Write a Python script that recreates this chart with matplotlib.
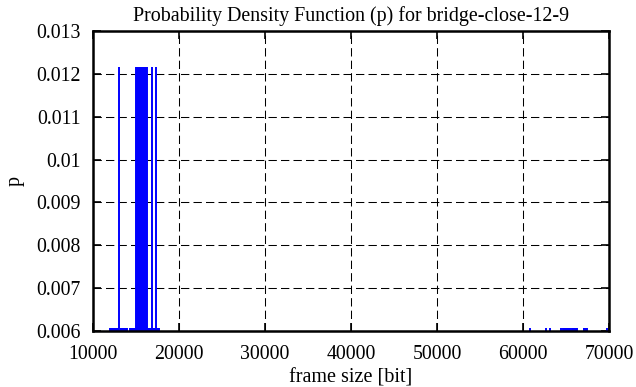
import matplotlib
matplotlib.use("Agg")
import matplotlib.pyplot as plt

# ------------------------------------------------
# Data (frame size in bit, probability)
# ------------------------------------------------

peak_bits = [13050, 15000, 15100, 15200, 15300, 15400, 15500, 15600, 15700,
             15800, 15900, 16000, 16100, 16200, 16300, 16850, 17350]
peak_p = [0.01215, 0.01215, 0.01215, 0.01215, 0.01215, 0.01215, 0.01215,
          0.01215, 0.01215, 0.01215, 0.01215, 0.01215, 0.01215, 0.01215,
          0.01215, 0.01215, 0.01215]

low_bits_left = [12000, 12100, 12200, 12300, 12400, 12500, 12600, 12700,
                 12800, 12900, 13200, 13300, 13400, 13500, 13600, 13700,
                 13800, 13900, 14300, 14400, 14500, 14600, 14700, 14800,
                 14900, 16400, 16500, 16600, 16700, 16800, 16900, 17000,
                 17100, 17200, 17300, 17400, 17500, 17600, 17650]
low_bits_right = [60800, 62700, 63100, 64400, 64650, 64750, 64850, 64950,
                  65050, 65150, 65250, 65350, 65450, 65750, 65850, 65950,
                  66050, 66150, 66230, 67050, 67150, 67250, 67350, 67430,
                  69720]
low_p_left = 0.00607
low_p_right = 0.00606

x_ticks = [10000, 20000, 30000, 40000, 50000, 60000, 70000]
y_ticks = [0.006, 0.007, 0.008, 0.009, 0.01, 0.011, 0.012, 0.013]
y_tick_labels = ["0.006", "0.007", "0.008", "0.009", "0.01", "0.011", "0.012", "0.013"]

# ------------------------------------------------
# Plot
# ------------------------------------------------

plt.rcParams["font.family"] = ["Liberation Serif", "DejaVu Serif"]

fig = plt.figure(figsize=(6.36, 3.87), dpi=100)
ax = fig.add_axes([93 / 636, 1 - 331 / 387, 516 / 636, 300 / 387])

ax.vlines(peak_bits, 0, peak_p, color="#0000ff", lw=1.4)
ax.vlines(low_bits_left, 0, low_p_left, color="#0000ff", lw=1.4)
ax.vlines(low_bits_right, 0, low_p_right, color="#0000ff", lw=1.4)

ax.set_xlim(10000, 70000)
ax.set_ylim(0.006, 0.013)
ax.set_xticks(x_ticks)
ax.set_yticks(y_ticks)
ax.set_yticklabels(y_tick_labels)

ax.grid(True, color="black", linestyle=(0, (8, 4)), linewidth=0.75)
ax.tick_params(direction="in", length=6, width=1.2, top=True, right=True,
               labelsize=14.3, colors="black")
ax.tick_params(axis="y", pad=9)
ax.tick_params(axis="x", pad=10)
for s in ax.spines.values():
    s.set_linewidth(1.8)

ax.set_title("Probability Density Function (p) for bridge-close-12-9",
             fontsize=14.4, pad=7)
ax.set_xlabel("frame size [bit]", fontsize=14.5, labelpad=3)
ax.set_ylabel("p", fontsize=14.5, labelpad=8)

fig.savefig("out.png", dpi=100)
